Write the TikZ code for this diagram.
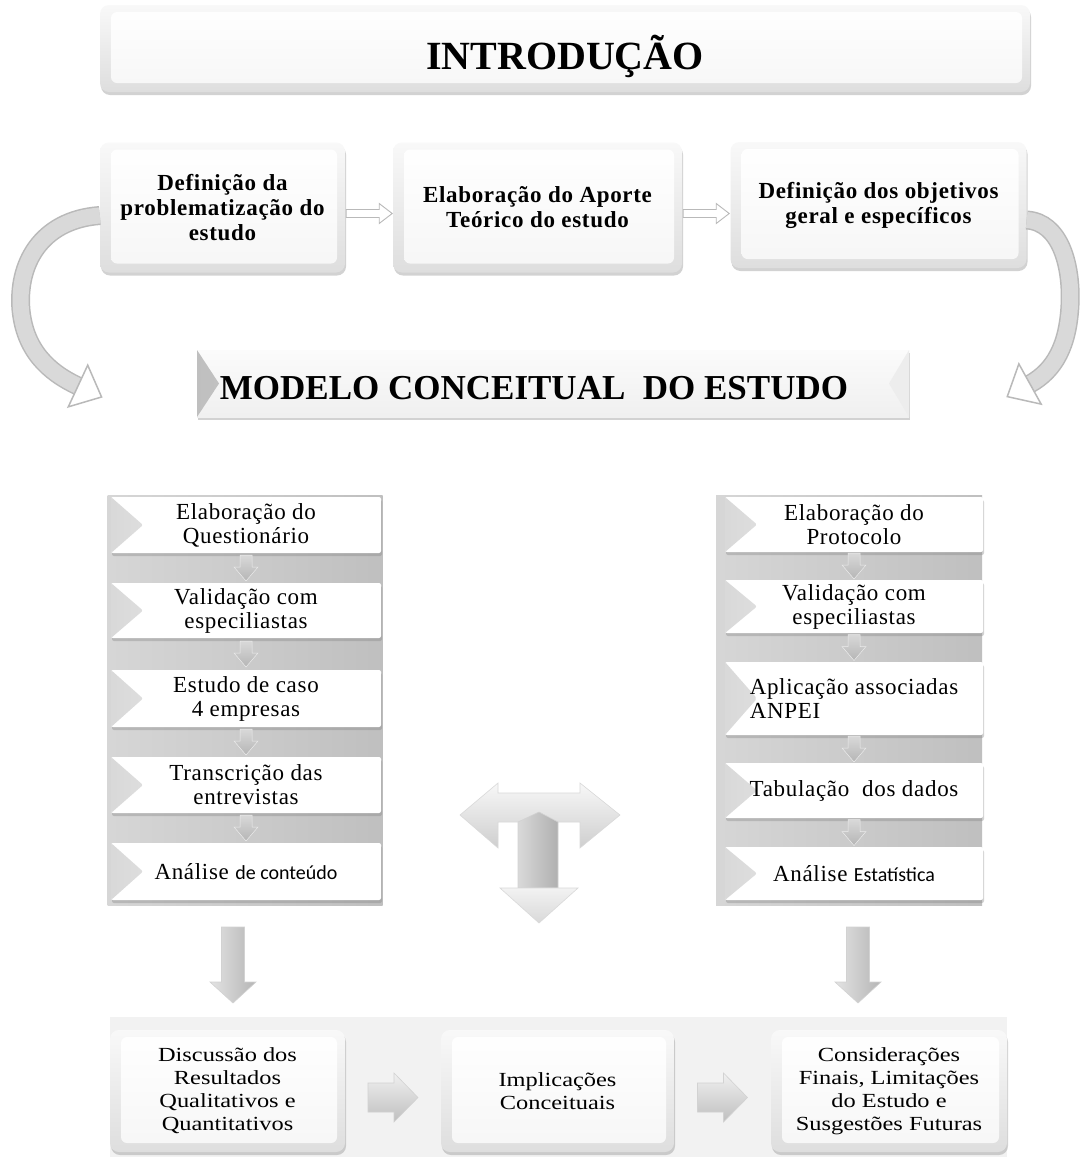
\documentclass[tikz,border=0pt]{standalone}
\usepackage{fontspec}
\setmainfont{Liberation Serif}
\newfontfamily\calib{Carlito}
\usetikzlibrary{calc,shadows}

\newcommand\dchev[2]{%
  \shade[chevsty] ($(#1.south)!0.5!(#2.north)$) ++(-6,-13) -- ++(12,0) -- ++(0,12) -- ++(6,0) -- ++(-12,14) -- ++(-12,-14) -- ++(6,0) -- cycle;}
\newcommand\rchev[2]{%
  \shade[chevthree] ($(#1.east)!0.5!(#2.west)+(-25,-8)$) -- ++(26,0) -- ++(0,-10) -- ++(24,24.5) -- ++(-24,24.5) -- ++(0,-10) -- ++(-26,0) -- cycle;}
\newcommand\bigdown[1]{%
  \shade[left color=gray!22, right color=gray!58, draw=gray!35, line width=0.6pt] (#1) ++(-11.5,0) -- ++(23,0) -- ++(0,55) -- ++(11.5,0) -- ++(-23,21) -- ++(-23,-21) -- ++(11.5,0) -- cycle;}

\tikzset{
  softshadow/.style={drop shadow={opacity=0.35, shadow xshift=1pt, shadow yshift=-3pt}},
  bevelbox/.style={rectangle, rounded corners=9pt, inner sep=0pt, align=center,
    top color=gray!5, bottom color=gray!26, softshadow,
    path picture={\shade[top color=white, bottom color=gray!7, rounded corners=6pt]
      ([shift={(11pt,-7pt)}]path picture bounding box.north west) rectangle
      ([shift={(-8pt,9pt)}]path picture bounding box.south east);}},
  colbox/.style={rectangle, rounded corners=2pt, inner sep=0pt, align=center, fill=white, softshadow,
    path picture={\shade[left color=gray!30, right color=white]
      (path picture bounding box.north west) -- ([xshift=32pt]path picture bounding box.west)
      -- (path picture bounding box.south west) -- cycle;}},
  modbox/.style={rectangle, inner sep=0pt, top color=gray!3, bottom color=gray!12, softshadow,
    path picture={\shade[left color=gray!50, right color=gray!8]
      (path picture bounding box.north west) -- ([xshift=22pt]path picture bounding box.west)
      -- (path picture bounding box.south west) -- cycle;
      \fill[gray!14] (path picture bounding box.north east) -- ([xshift=-20pt]path picture bounding box.east)
      -- (path picture bounding box.south east) -- cycle;}},
  panel/.style={rectangle, inner sep=0pt, left color=gray!32, right color=gray!50},
  toptext/.style={font=\fontsize{23}{25}\selectfont\bfseries\addfontfeatures{LetterSpace=3}},
  coltext/.style={font=\fontsize{23}{24}\selectfont\addfontfeatures{LetterSpace=3}},
  bottext/.style={font=\fontsize{20}{23}\selectfont\addfontfeatures{FakeStretch=1.22}},
  band/.style={draw=gray!55, double=gray!30, double distance=16pt, line width=1.5pt},
  headsty/.style={fill=white, draw=gray!55, line width=1.5pt, line join=miter},
  hollow/.style={fill=white, draw=gray!55, line width=0.9pt},
  chevsty/.style={top color=gray!30, bottom color=gray!58, draw=gray!15, line width=0.5pt},
  chevthree/.style={top color=gray!12, bottom color=gray!50, draw=gray!35, line width=0.6pt},
}

\begin{document}
\begin{tikzpicture}[x=1pt,y=-1pt]
\useasboundingbox (0,0) rectangle (1081,1157);
\fill[white] (0,0) rectangle (1081,1157);

% header
\node[bevelbox, minimum width=930pt, minimum height=87pt, font=\fontsize{40}{44}\selectfont\bfseries] (intro) at (565,48.5) {\raisebox{-8pt}[\height][\depth]{INTRODUÇÃO}};

% first row
\node[bevelbox, toptext, minimum width=245pt, minimum height=130pt] (b1) at (222.5,207.5) {Definição da\\problematização do\\estudo};
\node[bevelbox, toptext, minimum width=289pt, minimum height=130pt] (b2) at (537.5,207.5) {Elaboração do Aporte\\Teórico do estudo};
\node[bevelbox, toptext, minimum width=296pt, minimum height=126pt] (b3) at (878.5,205) {Definição dos objetivos\\geral e específicos};

\draw[hollow] ([shift={(1pt,-2pt)}]b1.east) -- ++(33,0) -- ++(0,-6) -- ++(13,10) -- ++(-13,10) -- ++(0,-6) -- ++(-33,0) -- cycle;
\draw[hollow] ([shift={(1pt,-2pt)}]b2.east) -- ++(33,0) -- ++(0,-6) -- ++(13,10) -- ++(-13,10) -- ++(0,-6) -- ++(-33,0) -- cycle;

% modelo
\node[modbox, minimum width=712pt, minimum height=67pt, font=\fontsize{35}{40}\selectfont\bfseries] (modelo) at (553,383.5) {\raisebox{-5pt}[\height][\depth]{MODELO CONCEITUAL\ \ DO ESTUDO}\kern38pt};

% curved arrows
\coordinate (lhead) at (78,386);
\coordinate (rhead) at (1030,384);
\draw[band] ([yshift=-8pt]b1.west) .. controls (40,220) and (17,265) .. (21,310) .. controls (25,350) and (48,372) .. (lhead);
\begin{scope}[shift={(lhead)}, rotate=-25]
  \draw[headsty] (0,-23) -- (26,0) -- (0,23) -- cycle;
\end{scope}
\draw[band] ([yshift=-15pt]b3.east) .. controls (1060,222) and (1072,265) .. (1070,305) .. controls (1068,345) and (1055,370) .. (rhead);
\begin{scope}[shift={(rhead)}, rotate=209]
  \draw[headsty] (0,-23) -- (26,0) -- (0,23) -- cycle;
\end{scope}

% left column
\node[panel, minimum width=275pt, minimum height=410pt] (lp) at (245,700) {};
\node[colbox, coltext, minimum width=270pt, minimum height=56pt] (lq1) at (246,525) {Elaboração do\\Questionário};
\node[colbox, coltext, minimum width=270pt, minimum height=55pt] (lq2) at (246,610.5) {Validação com\\especiliastas};
\node[colbox, coltext, minimum width=270pt, minimum height=57pt] (lq3) at (246,698.5) {Estudo de caso\\4 empresas};
\node[colbox, coltext, minimum width=270pt, minimum height=56pt] (lq4) at (246,785) {Transcrição das\\entrevistas};
\node[colbox, coltext, minimum width=270pt, minimum height=57pt] (lq5) at (246,871.5) {Análise {\calib\fontsize{20}{24}\selectfont de conteúdo}};
\dchev{lq1}{lq2}
\dchev{lq2}{lq3}
\dchev{lq3}{lq4}
\dchev{lq4}{lq5}

% right column
\node[panel, minimum width=266pt, minimum height=410pt] (rp) at (849,700) {};
\node[colbox, coltext, minimum width=258pt, minimum height=55pt] (rq1) at (854,524.5) {Elaboração do\\Protocolo};
\node[colbox, coltext, minimum width=258pt, minimum height=53pt] (rq2) at (854,606.5) {Validação com\\especiliastas};
\node[colbox, coltext, minimum width=258pt, minimum height=73pt, align=left] (rq3) at (854,698.5) {Aplicação associadas\\ANPEI};
\node[colbox, coltext, minimum width=258pt, minimum height=55pt] (rq4) at (854,790.5) {Tabulação\ \ dos dados};
\node[colbox, coltext, minimum width=258pt, minimum height=53pt] (rq5) at (854,873.5) {Análise {\calib\fontsize{20}{24}\selectfont Estatística}};
\dchev{rq1}{rq2}
\dchev{rq2}{rq3}
\dchev{rq3}{rq4}
\dchev{rq4}{rq5}

% central T arrow
\shade[top color=gray!6, bottom color=gray!38, draw=gray!30, line width=0.6pt]
  (460,815) -- (498,783) -- (498,793) -- (580,793) -- (580,783) -- (620,815) -- (580,848) -- (580,822) -- (498,822) -- (498,848) -- cycle;
\shade[left color=gray!30, right color=gray!62, draw=gray!35, line width=0.6pt]
  (518,822) -- (539,812) -- (558,822) -- (558,888) -- (518,888) -- cycle;
\shade[top color=gray!10, bottom color=gray!30, draw=gray!30, line width=0.6pt]
  (500,888) -- (578,888) -- (539,923) -- cycle;

% big down arrows
\coordinate (ldn) at (233,927);
\coordinate (rdn) at (858,927);
\bigdown{ldn}
\bigdown{rdn}

% bottom row
\fill[gray!10] (110,1017) rectangle (1007,1157);
\node[bevelbox, bottext, minimum width=235pt, minimum height=122pt] (c1) at (227.5,1091) {Discussão dos\\Resultados\\Qualitativos e\\Quantitativos};
\node[bevelbox, bottext, minimum width=233pt, minimum height=122pt] (c2) at (557.5,1091) {Implicações\\Conceituais};
\node[bevelbox, bottext, minimum width=236pt, minimum height=122pt] (c3) at (889,1091) {Considerações\\Finais, Limitações\\do Estudo e\\Susgestões Futuras};
\rchev{c1}{c2}
\rchev{c2}{c3}
\end{tikzpicture}
\end{document}
